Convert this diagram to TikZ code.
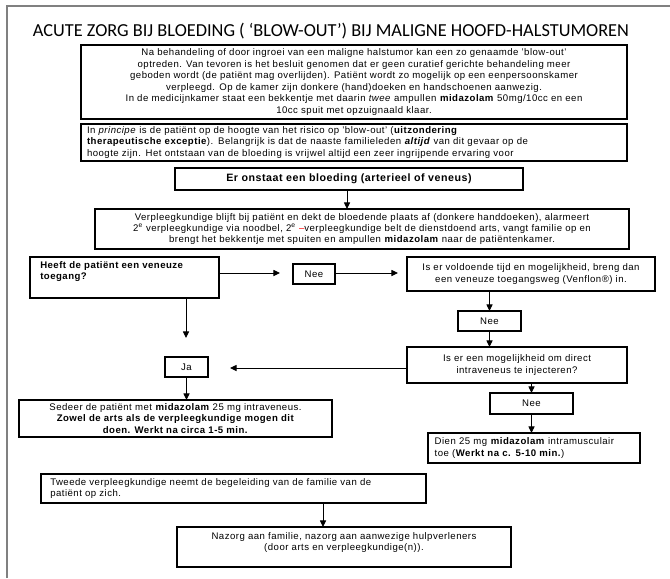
\documentclass[tikz,border=0pt]{standalone}
\usepackage{graphicx}
\usepackage{fontspec}
\setmainfont{Liberation Sans}[LetterSpace=5]
\newfontfamily\titlefont{Carlito}
\usetikzlibrary{arrows.meta}
\definecolor{framegray}{RGB}{128,128,128}
\begin{document}
\begin{tikzpicture}[x=0.75pt,y=-0.75pt,
  box/.style={draw, line width=0.9pt, inner sep=0pt, outer sep=0pt, font=\fontsize{7.2}{8.6}\selectfont, align=center},
  bx/.style 2 args={minimum width=#1*0.75pt, minimum height=#2*0.75pt},
  txt/.style={inner sep=0pt, font=\fontsize{7.2}{8.6}\selectfont, align=left},
  arr/.style={line width=0.7pt, -{Triangle[length=5pt,width=4.6pt]}}]
\useasboundingbox (0,0) rectangle (670,578);
\draw[framegray, line width=1.1pt] (7,578) -- (7,6) -- (670,6);
\node[inner sep=0pt] (title) at (331,31) {\resizebox{447pt}{!}{\titlefont ACUTE ZORG BIJ BLOEDING ( ‘BLOW-OUT’) BIJ MALIGNE HOOFD-HALSTUMOREN}};
% boxes
\node[box, bx={546}{74}] (intro) at (354,82) {Na behandeling of door ingroei van een maligne halstumor kan een zo genaamde 'blow-out'\\
optreden. Van tevoren is het besluit genomen dat er geen curatief gerichte behandeling meer\\
geboden wordt (de patiënt mag overlijden). Patiënt wordt zo mogelijk op een eenpersoonskamer\\
verpleegd. Op de kamer zijn donkere (hand)doeken en handschoenen aanwezig.\\
In de medicijnkamer staat een bekkentje met daarin \textit{twee} ampullen \textbf{midazolam} 50mg/10cc en een\\
10cc spuit met opzuignaald klaar.};
\node[box, bx={546}{37}, align=left, inner xsep=4.5pt, text width=400.5pt] (principe) at (354,142.5) {In \textit{principe} is de patiënt op de hoogte van het risico op 'blow-out' (\textbf{uitzondering}\\
\textbf{therapeutische exceptie}). Belangrijk is dat de naaste familieleden \textbf{\textit{altijd}} van dit gevaar op de\\
hoogte zijn. Het ontstaan van de bloeding is vrijwel altijd een zeer ingrijpende ervaring voor};
\node[box, bx={348}{22}, font=\fontsize{8}{9.6}\selectfont\bfseries] (bleed) at (349,179) {Er onstaat een bloeding (arterieel of veneus)};
\node[box, bx={534}{40}] (care) at (362,229) {Verpleegkundige blijft bij patiënt en dekt de bloedende plaats af (donkere handdoeken), alarmeert\\
2\textsuperscript{e} verpleegkundige via noodbel, 2\textsuperscript{e} {\color{red}–}verpleegkundige belt de dienstdoend arts, vangt familie op en\\
brengt het bekkentje met spuiten en ampullen \textbf{midazolam} naar de patiëntenkamer.};
\node[box, bx={189}{41}] (venous) at (124.5,277.5) {};
\node[txt, anchor=north west, font=\fontsize{7.2}{8.6}\selectfont\bfseries] (venoust) at (40,261) {Heeft de patiënt een veneuze\\toegang?};
\node[box, bx={42}{20}] (nee1) at (314,274) {Nee};
\node[box, bx={248}{34}] (time) at (531,274) {Is er voldoende tijd en mogelijkheid, breng dan\\een veneuze toegangsweg (Venflon®) in.};
\node[box, bx={63}{20}] (nee2) at (489.5,321) {Nee};
\node[box, bx={220}{36}] (direct) at (517,365) {Is er een mogelijkheid om direct\\intraveneus te injecteren?};
\node[box, bx={43}{20}] (ja) at (186.5,367) {Ja};
\node[box, bx={83}{21}] (nee3) at (531.5,403.5) {Nee};
\node[box, bx={313}{37}] (sedeer) at (175.5,418.5) {Sedeer de patiënt met \textbf{midazolam} 25 mg intraveneus.\\
\textbf{Zowel de arts als de verpleegkundige mogen dit}\\
\textbf{doen. Werkt na circa 1-5 min.}};
\node[box, bx={212}{30}, align=left, inner xsep=5pt, text width=149pt] (dien) at (534,448) {Dien 25 mg \textbf{midazolam} intramusculair\\toe (\textbf{Werkt na c. 5-10 min.})};
\node[box, bx={385}{29}] (tweede) at (233.5,488.5) {};
\node[txt, anchor=north west] (tweedet) at (50,478) {Tweede verpleegkundige neemt de begeleiding van de familie van de\\patiënt op zich.};
\node[box, bx={334}{40}] (nazorg) at (344,547) {};
\node[txt, anchor=north, align=center] (nazorgt) at (344,532) {Nazorg aan familie, nazorg aan aanwezige hulpverleners\\(door arts en verpleegkundige(n)).};
% connector end points
\coordinate (t0) at (347,0);
\coordinate (t1) at (280,273);
\coordinate (t2) at (398,273);
\coordinate (t3) at (230,368);
\coordinate (t4) at (186,338);
\coordinate (t5) at (323,0);
% connectors
\draw[arr] (bleed.south -| t0) -- (care.north -| t0);
\draw[arr] (venous.east |- t1) -- (t1);
\draw[arr] (nee1.east |- t2) -- (t2);
\draw[arr] (time.south -| nee2) -- (nee2.north);
\draw[arr] (nee2.south) -- (nee2.south |- direct.north);
\draw[arr] (direct.west |- t3) -- (t3);
\draw[arr] (venous.south -| t4) -- (t4);
\draw[arr] (ja.south) -- (ja.south |- sedeer.north);
\draw[arr] (direct.south -| nee3) -- (nee3.north);
\draw[arr] (nee3.south) -- (nee3.south |- dien.north);
\draw[arr] (tweede.south -| t5) -- (nazorg.north -| t5);
\end{tikzpicture}
\end{document}
